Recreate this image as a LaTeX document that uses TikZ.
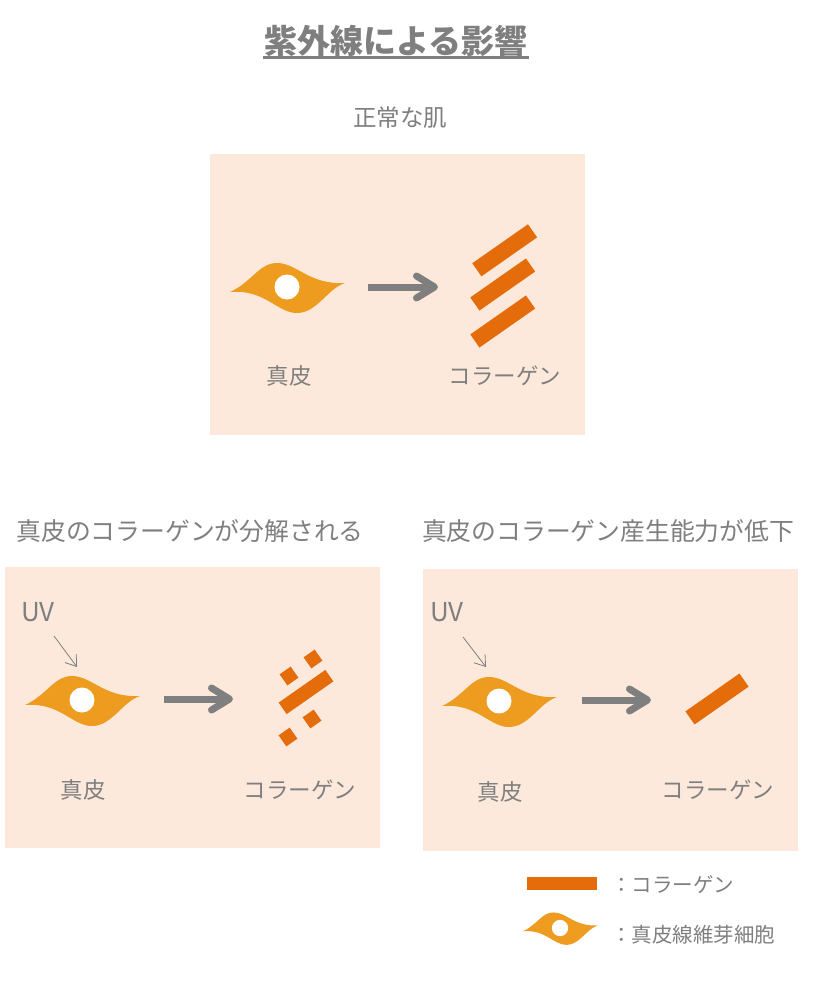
\documentclass[tikz,border=0pt]{standalone}
\usepackage{fontspec}
\newfontfamily\jp{Noto Sans CJK JP}
\usetikzlibrary{arrows.meta,calc}
\definecolor{txt}{HTML}{7F7F7F}
\definecolor{panel}{HTML}{FDE9DB}
\definecolor{cellc}{HTML}{EE9C1F}
\definecolor{coll}{HTML}{E46C0A}
\newcommand\fsz[1]{\fontsize{#1}{#1}\selectfont}
\begin{document}
\begin{tikzpicture}[x=1pt,y=-1pt,
  lbl/.style={font=\jp\fsz{22.5}, text=txt, inner sep=0pt},
  hdr/.style={font=\jp\fsz{24.8}, text=txt, inner sep=0pt},
  leg/.style={font=\jp\fsz{20.5}, text=txt, inner sep=0pt, anchor=west},
  uvtext/.style={font=\jp\fsz{26}, text=txt, inner sep=0pt},
  panelbox/.style={fill=panel, draw=none},
  bar/.style={fill=coll, draw=none, rectangle, inner sep=0pt, rotate=35},
  bigshaft/.style={draw=txt, line width=7pt, line cap=butt},
  bighead/.style={draw=txt, line width=7pt, line cap=round, line join=round},
  uvarrow/.style={draw=txt, line width=0.8pt, -{Straight Barb[length=10pt,width=14pt]}},
  cell/.pic={
    \fill[cellc] (-57,5) .. controls (-35,-5) and (-28,-24) .. (-10,-24)
      .. controls (10,-24) and (22,-2) .. (58,-4)
      .. controls (40,2) and (30,26) .. (10,26)
      .. controls (-10,26) and (-22,2) .. cycle;
    \fill[white] (0,0) circle (12.5pt);
  }
]
\fill[white] (0,0) rectangle (815,982);
\useasboundingbox (0,0) rectangle (815,982);

% title
\node[font=\jp\bfseries\fsz{33}, text=txt, inner sep=0pt] (title) at (396,41) {紫外線による影響};
\draw[txt, line width=2.5pt] (263,57.5) -- (529,57.5);

% ---------- panel 1 ----------
\node[hdr, font=\jp\fsz{23.5}] (h1) at (400,118) {正常な肌};
\fill[panelbox] (210,154) rectangle (585,435);
\pic (c1) at (287,287) {cell};
\coordinate (a1s) at (368,287);
\coordinate (a1e) at (434.5,287);
\draw[bigshaft] (a1s) -- (a1e);
\draw[bighead] ($(a1e)+(-18,-11)$) -- (a1e) -- ($(a1e)+(-18,11)$);
\node[bar, minimum width=68pt, minimum height=16pt] (b1) at (504.7,250.3) {};
\node[bar, minimum width=68pt, minimum height=16pt] (b2) at (502.7,284.5) {};
\node[bar, minimum width=68pt, minimum height=16pt] (b3) at (502.7,321.5) {};
\node[lbl] (l1a) at (289,376) {真皮};
\node[lbl] (l1b) at (505,376) {コラーゲン};

% ---------- panel 2 ----------
\node[hdr] (h2) at (190,531) {真皮のコラーゲンが分解される};
\fill[panelbox] (5,567) rectangle (380,848);
\node[uvtext] (uv2) at (38,612) {UV};
\coordinate (u2s) at (54,636);
\coordinate (u2e) at (77,667);
\draw[uvarrow] (u2s) -- (u2e);
\pic (c2) at (82,700) {cell};
\coordinate (a2s) at (164,699);
\coordinate (a2e) at (229.5,699);
\draw[bigshaft] (a2s) -- (a2e);
\draw[bighead] ($(a2e)+(-18,-11)$) -- (a2e) -- ($(a2e)+(-18,11)$);
\node[bar, minimum width=57pt, minimum height=14pt] (f0) at (306,692) {};
\node[bar, minimum width=13.5pt, minimum height=13.5pt] (f1) at (313,659) {};
\node[bar, minimum width=13.5pt, minimum height=13.5pt] (f2) at (289,676) {};
\node[bar, minimum width=13.5pt, minimum height=13.5pt] (f3) at (312,719) {};
\node[bar, minimum width=13.5pt, minimum height=13.5pt] (f4) at (288,737) {};
\node[lbl] (l2a) at (83,790) {真皮};
\node[lbl] (l2b) at (300,790) {コラーゲン};

% ---------- panel 3 ----------
\node[hdr] (h3) at (608,531) {真皮のコラーゲン産生能力が低下};
\fill[panelbox] (423,569) rectangle (798,851);
\node[uvtext] (uv3) at (447,612) {UV};
\coordinate (u3s) at (463,637);
\coordinate (u3e) at (486,667);
\draw[uvarrow] (u3s) -- (u3e);
\pic (c3) at (499,701) {cell};
\coordinate (a3s) at (582,700);
\coordinate (a3e) at (647.5,700);
\draw[bigshaft] (a3s) -- (a3e);
\draw[bighead] ($(a3e)+(-18,-11)$) -- (a3e) -- ($(a3e)+(-18,11)$);
\node[bar, minimum width=66pt, minimum height=16pt] (b4) at (717,699) {};
\node[lbl] (l3a) at (500,792) {真皮};
\node[lbl] (l3b) at (718,790) {コラーゲン};

% ---------- legend ----------
\fill[coll] (527,877) rectangle (597,890);
\node[leg] (g1) at (611,885) {：コラーゲン};
\pic[scale=0.65] (c4) at (560,928) {cell};
\node[leg] (g2) at (611,935) {：真皮線維芽細胞};
\end{tikzpicture}
\end{document}
